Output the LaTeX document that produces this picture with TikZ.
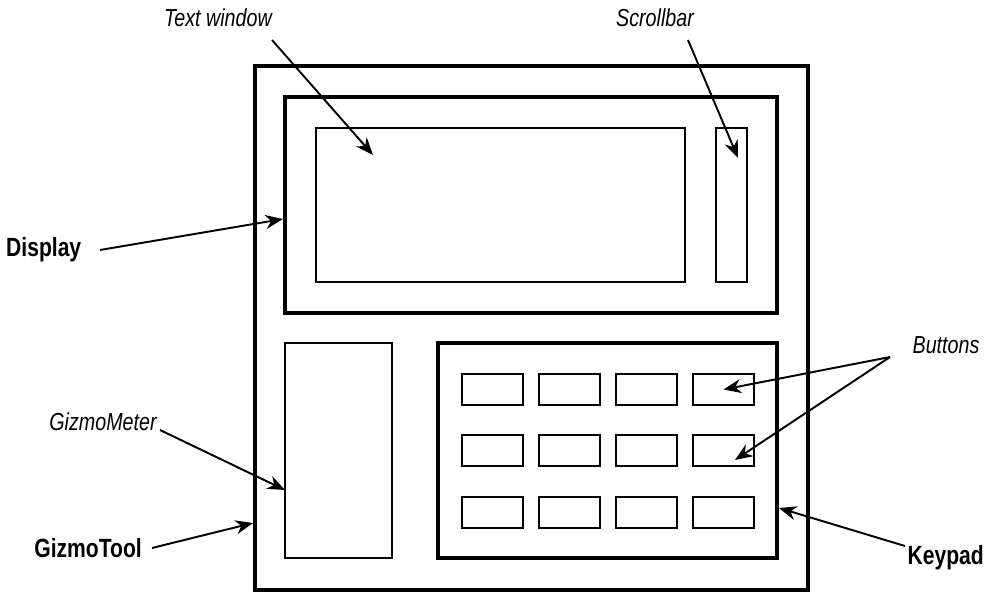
\documentclass[tikz,border=0pt]{standalone}
\usepackage{fontspec}
\setmainfont{Liberation Sans}[FakeStretch=0.8]
\usetikzlibrary{arrows.meta}
\begin{document}
\begin{tikzpicture}[x=0.02cm,y=-0.02cm,
  thin box/.style={draw,line width=1.2pt},
  thick box/.style={draw,line width=2.4pt},
  btn/.style={draw,line width=1.2pt,minimum width=1.22cm,minimum height=0.62cm,inner sep=0pt},
  arr/.style={line width=1.1pt,-{Stealth[length=10pt,width=8pt]}},
  it/.style={font=\itshape\fontsize{14}{16}\selectfont},
  bf/.style={font=\bfseries\fontsize{15}{17}\selectfont}]
\useasboundingbox (0,0) rectangle (1000,594);
\draw[thick box] (255,66) rectangle (808,590);
\draw[thick box] (285,97) rectangle (777,313);
\coordinate (displayL) at (283,219);
\draw[thin box] (316,128) rectangle (685,282);
\coordinate (tw) at (373,155);
\draw[thin box] (716,128) rectangle (747,282);
\coordinate (sb) at (738,158);
\draw[thin box] (285,343) rectangle (392,558);
\coordinate (gm) at (285,490);
\draw[thick box] (438,343) rectangle (777,558);
\coordinate (kp) at (779,508);
\coordinate (gt) at (253,523);
\foreach \c/\x in {1/492.5,2/569.5,3/646.5,4/723.5}
  \foreach \r/\y in {1/389.5,2/450.5,3/512.5}
    \node[btn] (b\r\c) at (\x,\y) {};
\node[it] (ltw) at (218,18) {Text window};
\node[it] (lsb) at (655,18) {Scrollbar};
\node[bf,anchor=west] (ldisp) at (0,250) {Display};
\node[it] (lbt) at (946,345) {Buttons};
\node[it] (lgm) at (103,422) {GizmoMeter};
\node[bf,anchor=east] (lgt) at (148,548) {GizmoTool};
\node[bf,anchor=east] (lkp) at (990,558) {Keypad};
\draw[arr] (272,40) -- (tw);
\draw[arr] (688,40) -- (sb);
\draw[arr] (100,250) -- (displayL);
\coordinate (bo) at (890,357);
\draw[arr] (bo) -- (b14.center);
\draw[arr] (bo) -- (735,460);
\draw[arr] (160,430) -- (gm);
\draw[arr] (152,548) -- (gt);
\draw[arr] (905,546) -- (kp);
\end{tikzpicture}
\end{document}
